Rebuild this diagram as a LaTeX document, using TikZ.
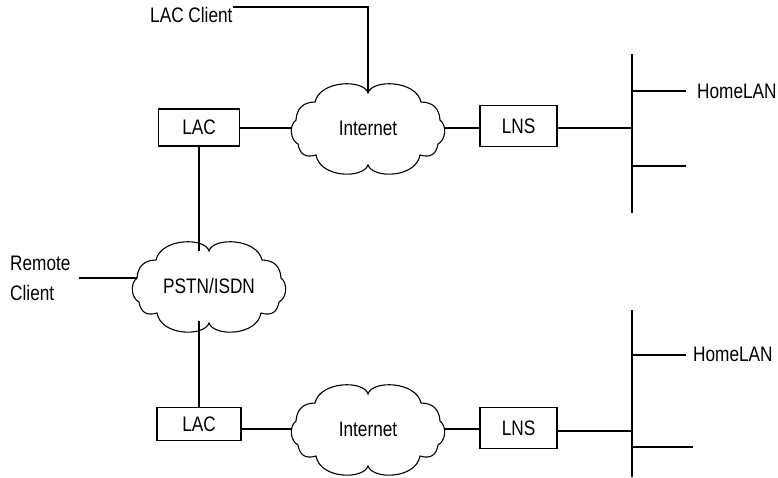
\documentclass[tikz,border=0pt]{standalone}
\usepackage{fontspec}
\setmainfont[FakeStretch=0.82]{Liberation Sans}
\tikzset{
  box/.style={draw, line width=1.6pt, inner sep=0pt},
  net/.style={inner sep=0pt, minimum width=152pt, minimum height=70pt},
  wire/.style={line width=1.6pt},
  lbl/.style={inner sep=0pt}
}
\newcommand\cloudline[1]{%
  \draw[line width=1.1pt, shift={(#1.center)}]
    (0,-35) .. controls (-4,-49) and (-48,-48) .. (-53,-26)
    .. controls (-64.8,-25.8) and (-71.2,-19.8) .. (-72,-8)
    .. controls (-79,-3) and (-78,12) .. (-70,16)
    .. controls (-68.2,26.5) and (-62.2,30.1) .. (-52,27)
    .. controls (-48,50) and (-5,51) .. (0,37)
    .. controls (5,51) and (48,50) .. (52,27)
    .. controls (62.2,30.1) and (68.2,26.5) .. (70,16)
    .. controls (78,12) and (79,-3) .. (72,-8)
    .. controls (71.2,-19.8) and (64.8,-25.8) .. (53,-26)
    .. controls (48,-48) and (4,-49) .. (0,-35) -- cycle;}
\begin{document}
\begin{tikzpicture}[x=1pt, y=-1pt, font=\fontsize{21}{30}\selectfont]
    \useasboundingbox (0,0) rectangle (778,477);
    \node[net] (inet1) at (368,128) {Internet};
    \node[net] (pstn) at (209,286) {PSTN/ISDN};
    \node[net] (inet2) at (368,429) {Internet};
    \cloudline{inet1}
    \cloudline{pstn}
    \cloudline{inet2}
    \node[box, minimum width=81pt, minimum height=37pt] (lac1) at (199,127.5) {LAC};
    \node[box, minimum width=77pt, minimum height=41pt] (lns1) at (518.5,126) {LNS};
    \node[box, minimum width=84pt, minimum height=33pt] (lac2) at (199,424) {LAC};
    \node[box, minimum width=77pt, minimum height=41pt] (lns2) at (518.5,428) {LNS};
    \node[lbl, anchor=west] (lacc) at (150,15) {LAC Client};
    \node[lbl, anchor=west, align=left] (remote) at (10,278) {Remote\\Client};
    \node[lbl, anchor=west] (home1) at (697,91) {HomeLAN};
    \node[lbl, anchor=west] (home2) at (693,354) {HomeLAN};
    \coordinate (b1top) at (632,54);
    \coordinate (b1bot) at (632,213);
    \coordinate (b2top) at (632,310);
    \coordinate (b2bot) at (632,477);
    \draw[wire] (b1top) -- (b1bot);
    \draw[wire] (b2top) -- (b2bot);
    \draw[wire] (lacc.north east) -| (inet1.north);
    \draw[wire] (lac1.east |- inet1.west) -- (inet1.west);
    \draw[wire] (inet1.east) -- (inet1.east -| lns1.west);
    \draw[wire] (lns1.east |- 0,128) -- (b1top |- 0,128);
    \draw[wire] (b1top |- 0,91) -- (686,91);
    \draw[wire] (b1top |- 0,166) -- (686,166);
    \draw[wire] (lac1.south) -- (lac1.south |- pstn.north);
    \draw[wire] (remote.east) ++(8,0) -- ([xshift=4pt]pstn.west |- remote.east);
    \draw[wire] (lac2.north |- pstn.south) -- (lac2.north);
    \draw[wire] (lac2.east |- inet2.west) -- (inet2.west);
    \draw[wire] (inet2.east) -- (inet2.east -| lns2.west);
    \draw[wire] (lns2.east |- 0,431) -- (b2top |- 0,431);
    \draw[wire] (b2top |- 0,355) -- (686,355);
    \draw[wire] (b2top |- 0,447) -- (693,447);
\end{tikzpicture}
\end{document}
